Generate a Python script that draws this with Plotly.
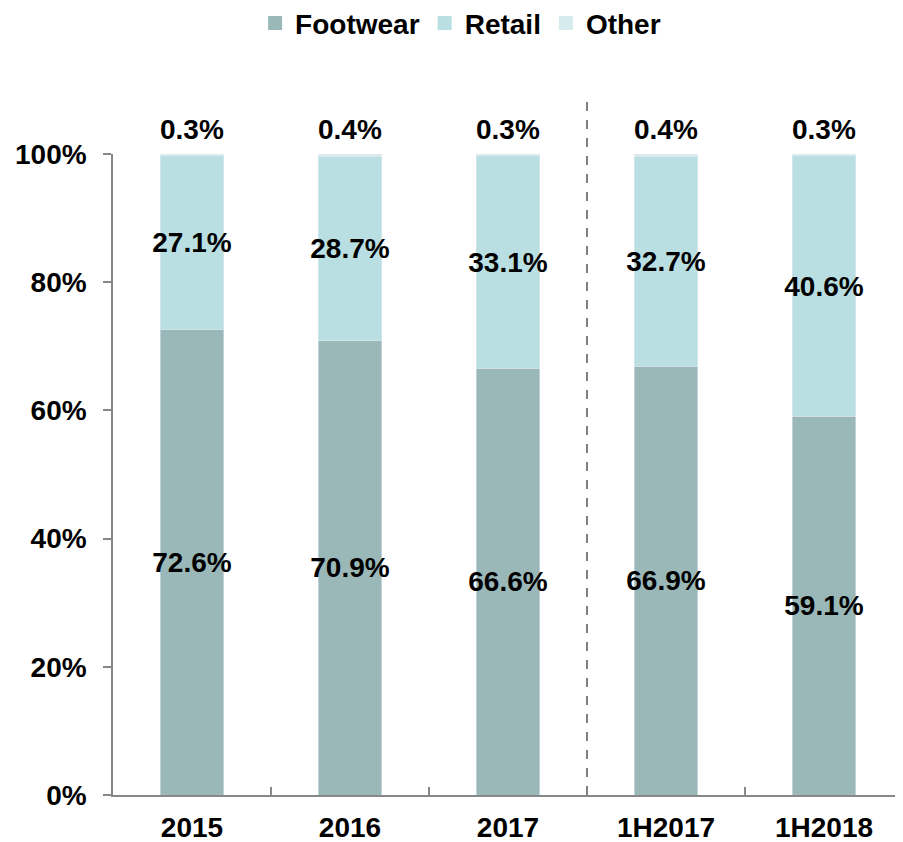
import plotly.graph_objects as go

categories = ["2015", "2016", "2017", "1H2017", "1H2018"]
footwear = [72.6, 70.9, 66.6, 66.9, 59.1]
retail = [27.1, 28.7, 33.1, 32.7, 40.6]
other = [0.3, 0.4, 0.3, 0.4, 0.3]
y_ticks = [0, 20, 40, 60, 80, 100]
y_tick_labels = ["0%", "20%", "40%", "60%", "80%", "100%"]

C_FOOT = "#9BB8B9"
C_RET = "#B9DFE2"
C_OTH = "#D5EBED"
FONT = "Liberation Sans, Arial, sans-serif"
FS = 28
lbl_font = dict(family=FONT, size=FS, color="black")

fig = go.Figure()
fig.add_trace(go.Bar(
    x=categories, y=footwear, name="Footwear", marker_color=C_FOOT,
    text=[f"<b>{v:.1f}%</b>" for v in footwear], textposition="inside",
    insidetextanchor="middle", textfont=lbl_font, width=0.4,
    textangle=0, constraintext="none", cliponaxis=False, showlegend=False,
))
fig.add_trace(go.Bar(
    x=categories, y=retail, name="Retail", marker_color=C_RET,
    text=[f"<b>{v:.1f}%</b>" for v in retail], textposition="inside",
    insidetextanchor="middle", textfont=lbl_font, width=0.4,
    textangle=0, constraintext="none", cliponaxis=False, showlegend=False,
))
fig.add_trace(go.Bar(
    x=categories, y=other, name="Other", marker_color=C_OTH, width=0.4,
    textposition="none", showlegend=False,
))

# legend entries with square swatches
for nm, col in [("Footwear", C_FOOT), ("Retail", C_RET), ("Other", C_OTH)]:
    fig.add_trace(go.Scatter(
        x=[None], y=[None], mode="markers", name=f"<b>{nm}</b>",
        marker=dict(symbol="square", size=14, color=col), showlegend=True,
    ))

totals = [round(a + b + c, 6) for a, b, c in zip(footwear, retail, other)]
annotations = [
    dict(x=i, y=t, xref="x", yref="y", text=f"<b>{o:.1f}%</b>", showarrow=False,
         yshift=25, yanchor="middle", font=lbl_font)
    for i, (t, o) in enumerate(zip(totals, other))
]

fig.update_layout(
    barmode="stack",
    width=895, height=834,
    margin=dict(l=105, r=0, t=146, b=47, autoexpand=False),
    plot_bgcolor="white", paper_bgcolor="white",
    font=dict(family=FONT, size=FS, color="black"),
    showlegend=True,
    legend=dict(orientation="h", x=0.44, xanchor="center", y=1.204, yanchor="middle",
                font=dict(family=FONT, size=FS, color="black"),
                itemwidth=30, traceorder="normal"),
    xaxis=dict(type="category", showline=True, linecolor="#878787", linewidth=1.5,
               ticks="inside", ticklen=8, tickcolor="#878787", tickwidth=1.5,
               tickson="boundaries", showgrid=False, ticklabelstandoff=7,
               tickfont=dict(family=FONT, size=FS, color="black"),
               tickprefix="<b>", ticksuffix="</b>", range=[-0.5, 4.5]),
    yaxis=dict(range=[0, 100], showline=True, linecolor="#878787", linewidth=1.5,
               ticks="outside", ticklen=8, tickcolor="#878787", tickwidth=1.5,
               showgrid=False, zeroline=False, ticklabelstandoff=11,
               tickvals=y_ticks, ticktext=[f"<b>{t}</b>" for t in y_tick_labels],
               tickfont=dict(family=FONT, size=FS, color="black")),
    annotations=annotations,
    shapes=[
        dict(type="line", xref="x", yref="paper", x0=2.5, x1=2.5, y0=0, y1=1.092,
             line=dict(color="#808080", width=2, dash="dash")),
        dict(type="line", xref="paper", yref="paper", x0=-0.011, x1=0, y0=0, y1=0,
             line=dict(color="#878787", width=1.5)),
    ],
)

fig.write_html("out.html")
